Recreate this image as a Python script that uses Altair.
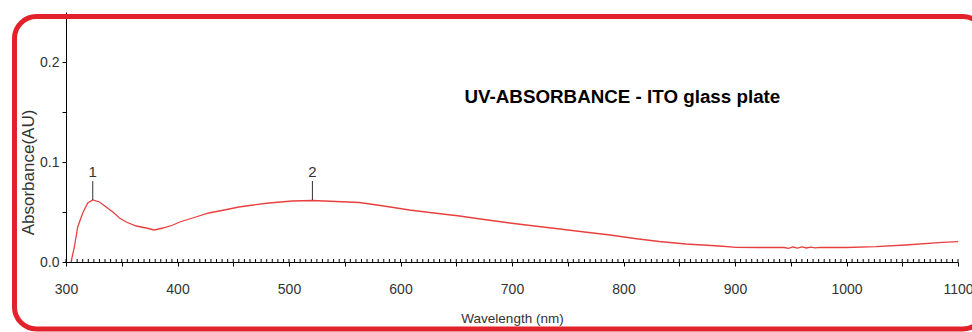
import altair as alt
import pandas as pd

# ---- data ----
wavelength = [304.5, 307.5, 310.5, 315, 319.5, 324, 330, 336, 342, 348, 354, 363, 372, 379, 387,
              396, 402, 415, 428, 442, 455, 468, 482, 503, 521, 542, 563, 585, 608, 630, 653,
              675, 698, 720, 743, 765, 788, 810, 832, 856, 886, 901, 920, 944, 948, 952, 956,
              960, 964, 968, 972, 976, 1000, 1026, 1053, 1086, 1100]
absorbance = [0.000, 0.015, 0.035, 0.049, 0.059, 0.062, 0.060, 0.055, 0.050, 0.044, 0.040, 0.036,
              0.034, 0.032, 0.034, 0.037, 0.040, 0.0445, 0.049, 0.052, 0.055, 0.057, 0.059, 0.061,
              0.0615, 0.0605, 0.0595, 0.056, 0.052, 0.049, 0.046, 0.0425, 0.039, 0.036, 0.033,
              0.030, 0.027, 0.0235, 0.0205, 0.018, 0.016, 0.0147, 0.0145, 0.0145, 0.0137, 0.0150,
              0.0139, 0.0151, 0.0140, 0.0149, 0.0141, 0.0146, 0.0145, 0.0153, 0.017, 0.0197, 0.0203]

peak_labels = ["1", "2"]
peak_wavelength = [324, 521]
peak_absorbance = [0.062, 0.062]

x_major_ticks = list(range(300, 1101, 50))
x_minor_ticks = list(range(300, 1101, 5))
y_ticks = [0.0, 0.05, 0.1, 0.15, 0.2]

title_text = "UV-ABSORBANCE -  ITO glass plate"
x_title = "Wavelength (nm)"
y_title = "Absorbance(AU)"

FONT = "Liberation Sans, Arial, sans-serif"
RED_LINE = "#e8403f"
FRAME = "#e2222a"
GREY = "#333333"

curve = pd.DataFrame({"wl": wavelength, "ab": absorbance})
peaks = pd.DataFrame({"label": peak_labels, "wl": peak_wavelength, "ab": peak_absorbance})
peaks["top"] = peaks["ab"] + 0.019
peaks["txt"] = peaks["ab"] + 0.0235
minor = pd.DataFrame({"wl": x_minor_ticks})

xscale = alt.Scale(domain=[300, 1100], nice=False, zero=False)
yscale = alt.Scale(domain=[0, 0.25], nice=False, zero=False)

xaxis = alt.Axis(values=x_major_ticks,
                 labelExpr="datum.value % 100 == 0 ? datum.label : ''",
                 format="d", grid=False, domainColor="black", tickColor="black",
                 tickSize=4, labelPadding=16, labelFont=FONT, labelFontSize=14,
                 labelColor=GREY, title=x_title, titleFont=FONT, titleFontSize=13.5,
                 titleFontWeight="normal", titleColor=GREY, titleBaseline="alphabetic",
                 titleY=60, labelFlush=False)
yaxis = alt.Axis(values=y_ticks,
                 labelExpr="(round(datum.value*100) % 10 == 0) ? format(datum.value, '.1f') : ''",
                 grid=False, domainColor="black", tickColor="black", tickSize=4,
                 labelPadding=3, labelFont=FONT, labelFontSize=14, labelColor=GREY,
                 title=y_title, titleFont=FONT, titleFontSize=17, titleFontWeight="normal",
                 titleColor=GREY, titleBaseline="alphabetic", titleX=-33, titleY=160,
                 titleAngle=270, titleAlign="center", labelFlush=False)

base_x = alt.X("wl:Q", scale=xscale, axis=xaxis)
base_y = alt.Y("ab:Q", scale=yscale, axis=yaxis)

frame = alt.Chart(pd.DataFrame({"k": [0]})).mark_rect(
    fill="white", fillOpacity=0, stroke=FRAME, strokeWidth=5, cornerRadius=22
).encode(
    x=alt.datum(253.8, scale=xscale), x2=alt.datum(1124),
    y=alt.datum(0.2455, scale=yscale), y2=alt.datum(-0.067)
)

line = alt.Chart(curve).mark_line(color=RED_LINE, strokeWidth=1.3).encode(x=base_x, y=base_y)

minor_ticks = alt.Chart(minor).mark_rule(color="black", strokeWidth=1).encode(
    x=alt.X("wl:Q", scale=xscale),
    y=alt.datum(0, scale=yscale), y2=alt.datum(0.003)
)

peak_rules = alt.Chart(peaks).mark_rule(color=GREY, strokeWidth=1).encode(
    x=alt.X("wl:Q", scale=xscale), y=alt.Y("ab:Q", scale=yscale), y2="top:Q"
)
peak_text = alt.Chart(peaks).mark_text(
    font=FONT, fontSize=15, color=GREY, baseline="alphabetic", align="center"
).encode(x=alt.X("wl:Q", scale=xscale), y=alt.Y("txt:Q", scale=yscale), text="label:N")

title = alt.Chart(pd.DataFrame({"t": [title_text]})).mark_text(
    font=FONT, fontSize=18.8, fontWeight="bold", color="black",
    baseline="alphabetic", align="center"
).encode(x=alt.datum(799, scale=xscale), y=alt.datum(0.159, scale=yscale), text="t:N")

chart = alt.layer(frame, minor_ticks, line, peak_rules, peak_text, title).properties(
    width=892, height=250,
    padding={"left": 66, "top": 12, "right": 14, "bottom": 70},
    autosize=alt.AutoSizeParams(type="none"),
    background="white",
).configure_view(strokeWidth=0)

chart.save("out.html", embed_options={"renderer": "svg", "actions": False})
